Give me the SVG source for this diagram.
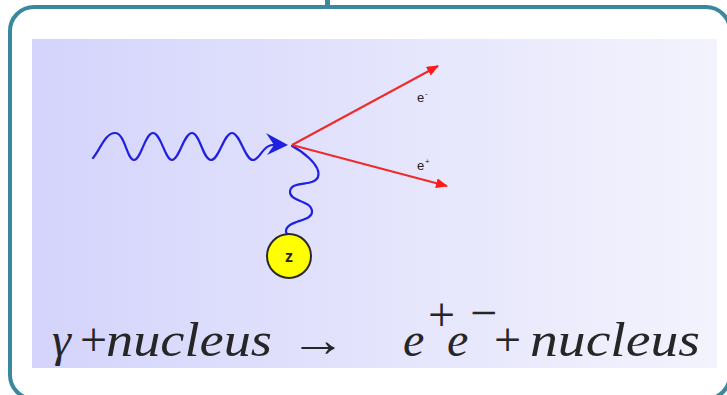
<svg xmlns="http://www.w3.org/2000/svg" width="727" height="395" viewBox="0 0 727 395">
<defs>
<linearGradient id="bg" x1="0" y1="0" x2="1" y2="0">
<stop offset="0" stop-color="#d4d4fc"/>
<stop offset="1" stop-color="#f3f3fd"/>
</linearGradient>
<marker id="ra" markerWidth="12" markerHeight="10" refX="11" refY="5" orient="auto" markerUnits="userSpaceOnUse" viewBox="0 0 12 10">
<path d="M0,0 L12,5 L0,10 Z" fill="#ff1a1a"/>
</marker>
</defs>
<style>
.frame{fill:none;stroke:#3a889d;stroke-width:4}
.photon{fill:none;stroke:#2020e0;stroke-width:2.2;stroke-linecap:round}
.lepton{fill:none;stroke:#ee2a2a;stroke-width:2}
.lbl{font-family:'Liberation Sans',Arial,sans-serif;font-size:13px;fill:#222}
.sup{font-family:'Liberation Sans',Arial,sans-serif;font-size:8px;fill:#222}
.eq{font-family:'Liberation Serif','Times New Roman',serif;font-style:italic;font-size:48px;fill:#262626}
.eqn{font-family:'Liberation Serif','Times New Roman',serif;font-style:normal;font-size:48px;fill:#262626}
</style>
<rect class="frame" x="10" y="7" width="720" height="392" rx="24"/>
<rect x="325" y="0" width="5" height="6" fill="#3a889d"/>
<rect x="32" y="39" width="685" height="329" fill="url(#bg)"/>
<g id="connectors">
<path id="photon-in" class="photon" d="M93,158 C100,150 105,133 115,133 C125,133 127,160 134,160 C141,160 145,133 153,133 C161,133 165,160 172,160 C179,160 184,133 192,133 C200,133 203,160 211,160 C219,160 224,133 232,133 C240,133 245,160 253,160 C260,160 262,146 272,145 L282,145"/>
<path id="photon-head" d="M288,145 L266,133 L274,145 L267,155 Z" fill="#2020e0"/>
<path id="virtual-photon" class="photon" d="M292,146 C300,150 322,165 318,177 C314,187 290,180 290,192 C290,202 312,200 312,212 C312,222 285,220 286,232 L287,234"/>
<line id="electron" class="lepton" x1="292" y1="145" x2="438" y2="66" marker-end="url(#ra)"/>
<line id="positron" class="lepton" x1="292" y1="145" x2="447" y2="186" marker-end="url(#ra)"/>
</g>
<g id="nucleus">
<circle cx="289" cy="256" r="22" fill="#ffff00" stroke="#2a2a2a" stroke-width="2"/>
<text x="289" y="262" text-anchor="middle" font-family="'Liberation Sans',Arial,sans-serif" font-size="16" font-weight="bold" fill="#222">z</text>
</g>
<g id="label-eminus">
<text class="lbl" x="417" y="102">e</text><text class="sup" x="425" y="96">-</text>
</g>
<g id="label-eplus">
<text class="lbl" x="417" y="170">e</text><text class="sup" x="425" y="164">+</text>
</g>
<g id="equation">
<text class="eq" x="52" y="356">γ</text>
<text class="eqn" x="80" y="356">+</text>
<text class="eq" x="106" y="356" textLength="166" lengthAdjust="spacingAndGlyphs">nucleus</text>
<text class="eqn" x="290" y="356" font-size="56" textLength="56" lengthAdjust="spacingAndGlyphs">→</text>
<text class="eq" x="403" y="356">e</text>
<text class="eqn" x="428" y="331" font-size="20">+</text>
<text class="eq" x="447" y="356">e</text>
<text class="eqn" x="470" y="329" font-size="20">−</text>
<text class="eqn" x="494" y="356">+</text>
<text class="eq" x="530" y="356" textLength="170" lengthAdjust="spacingAndGlyphs">nucleus</text>
</g>
</svg>
